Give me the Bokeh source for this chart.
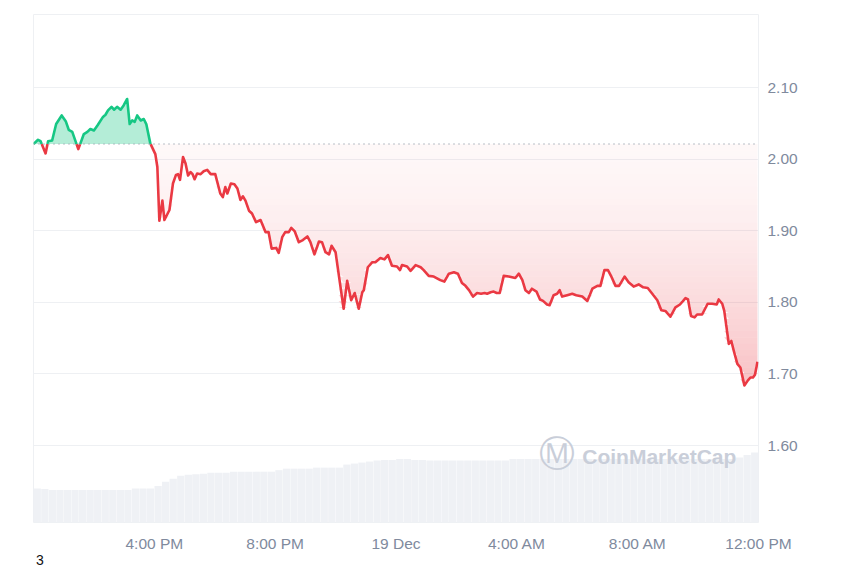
import numpy as np
from bokeh.plotting import figure
from bokeh.layouts import column
from bokeh.models import Range1d, FixedTicker, Span, Label, NumeralTickFormatter, Div
from bokeh.embed import file_html
from bokeh.resources import INLINE

# ---- data (minutes since 12:00 PM, 18 Dec) ----
minutes = [0, 9, 14, 24, 29, 37, 45, 56, 64, 70, 77, 89, 100, 107, 113, 120, 127, 138, 143, 148,
           155, 160, 166, 173, 179, 186, 191, 196, 201, 206, 213, 219, 224, 232, 242, 246, 250, 256, 260, 270,
           277, 283, 287, 291, 297, 302, 307, 312, 316, 320, 325, 332, 338, 345, 352, 361, 371, 376, 381, 385,
           392, 399, 405, 411, 416, 421, 428, 434, 442, 451, 461, 467, 473, 482, 487, 494, 500, 507, 512, 519,
           527, 535, 544, 550, 558, 567, 573, 580, 587, 592, 600, 606, 616, 623, 631, 638, 646, 653, 656, 664,
           673, 679, 689, 697, 704, 712, 722, 728, 732, 742, 749, 759, 769, 775, 785, 795, 808, 816, 825, 835,
           843, 851, 858, 865, 873, 881, 889, 896, 901, 908, 914, 920, 926, 934, 944, 957, 964, 971, 977, 984,
           990, 999, 1006, 1012, 1020, 1025, 1033, 1040, 1045, 1050, 1060, 1070, 1078, 1090, 1100, 1110, 1120, 1126, 1134, 1141,
           1147, 1156, 1163, 1174, 1182, 1192, 1202, 1211, 1220, 1229, 1239, 1247, 1255, 1265, 1275, 1284, 1295, 1300, 1306, 1313,
           1318, 1328, 1339, 1348, 1357, 1361, 1368, 1372, 1381, 1386, 1391, 1398, 1404, 1412, 1419, 1424, 1429, 1433, 1438]
prices = [2.021, 2.027, 2.025, 2.008, 2.025, 2.026, 2.049, 2.061, 2.053, 2.041, 2.038, 2.014, 2.035, 2.038, 2.042, 2.040, 2.047, 2.059, 2.062, 2.068,
          2.073, 2.069, 2.073, 2.069, 2.075, 2.084, 2.049, 2.054, 2.052, 2.061, 2.054, 2.056, 2.049, 2.022, 2.007, 1.989, 1.914, 1.942, 1.915, 1.929,
          1.966, 1.978, 1.979, 1.971, 2.003, 1.994, 1.977, 1.982, 1.979, 1.972, 1.980, 1.979, 1.983, 1.985, 1.979, 1.979, 1.952, 1.947, 1.961, 1.952,
          1.966, 1.965, 1.959, 1.943, 1.948, 1.942, 1.928, 1.924, 1.912, 1.915, 1.898, 1.898, 1.875, 1.876, 1.869, 1.891, 1.898, 1.898, 1.904, 1.899,
          1.884, 1.887, 1.892, 1.884, 1.867, 1.885, 1.884, 1.870, 1.867, 1.879, 1.870, 1.840, 1.791, 1.830, 1.803, 1.813, 1.791, 1.814, 1.817, 1.849,
          1.856, 1.856, 1.862, 1.860, 1.866, 1.851, 1.850, 1.845, 1.852, 1.850, 1.844, 1.852, 1.849, 1.845, 1.837, 1.836, 1.831, 1.829, 1.840, 1.842,
          1.840, 1.827, 1.823, 1.817, 1.808, 1.813, 1.812, 1.813, 1.812, 1.814, 1.815, 1.813, 1.813, 1.837, 1.836, 1.834, 1.840, 1.831, 1.817, 1.813,
          1.819, 1.815, 1.804, 1.802, 1.797, 1.796, 1.810, 1.812, 1.817, 1.808, 1.810, 1.812, 1.810, 1.808, 1.802, 1.819, 1.823, 1.823, 1.845, 1.845,
          1.837, 1.823, 1.823, 1.836, 1.828, 1.822, 1.825, 1.821, 1.820, 1.812, 1.803, 1.789, 1.788, 1.780, 1.793, 1.797, 1.806, 1.804, 1.781, 1.779,
          1.783, 1.783, 1.798, 1.798, 1.797, 1.804, 1.798, 1.788, 1.742, 1.746, 1.732, 1.714, 1.709, 1.684, 1.691, 1.695, 1.695, 1.699, 1.717]
ref_price = 2.021

# 24h volume, 15-minute bars (arbitrary units, millions)
volume = [67, 66, 64, 64, 64, 64, 64, 64, 64, 64, 64, 64, 64, 67, 67, 67,
          72, 80, 86, 92, 94, 95, 96, 98, 98, 98, 100, 100, 100, 100, 100, 100,
          103, 106, 106, 106, 106, 108, 108, 108, 108, 114, 116, 118, 120, 122, 123, 123,
          125, 125, 123, 123, 122, 122, 122, 122, 122, 122, 122, 122, 122, 122, 122, 125,
          125, 125, 125, 125, 125, 125, 125, 125, 125, 125, 125, 125, 125, 125, 125, 125,
          125, 125, 125, 125, 125, 125, 125, 125, 125, 125, 125, 125, 125, 128, 133, 138]
bar_minutes = 15

tick_minutes = [240, 480, 720, 960, 1200, 1440]
tick_labels = ["4:00 PM", "8:00 PM", "19 Dec", "4:00 AM", "8:00 AM", "12:00 PM"]
price_ticks = [1.6, 1.7, 1.8, 1.9, 2.0, 2.1]
corner_text = "3"

GREEN = "#16c784"
RED = "#ea3943"
GRAY_TXT = "#808a9d"
FONT = "Liberation Sans"

# ---- derived arrays: insert baseline crossings ----
t = np.array(minutes, dtype=float)
y = np.array(prices, dtype=float)
xd, yd = [t[0]], [y[0]]
for i in range(1, len(t)):
    a = y[i - 1] - ref_price
    b = y[i] - ref_price
    if a * b < 0:
        f = a / (a - b)
        xd.append(t[i - 1] + f * (t[i] - t[i - 1]))
        yd.append(ref_price)
    xd.append(t[i])
    yd.append(y[i])
xd = np.array(xd)
yd = np.array(yd)
eps = 1e-9
green_y = np.where(yd >= ref_price - eps, yd, np.nan)
red_y = np.where(yd <= ref_price + eps, yd, np.nan)

p = figure(width=850, height=554, output_backend="svg", toolbar_location=None,
           x_range=Range1d(0, 1440), y_range=Range1d(1.4925, 2.202),
           y_axis_location="right",
           min_border_left=33, min_border_right=92, min_border_top=14, min_border_bottom=32)
p.extra_y_ranges = {"vol": Range1d(0, 1000)}
p.outline_line_color = "#eef0f3"
p.background_fill_color = "white"
p.border_fill_color = "white"

# volume bars
centers = [bar_minutes * (i + 0.5) for i in range(len(volume))]
p.vbar(x=centers, width=bar_minutes * 0.96, top=volume, bottom=0, y_range_name="vol",
       fill_color="#eff1f5", line_color=None)

# red gradient fill (stacked bands)
depth = ref_price - yd.min()
nb = 40
d = depth / nb
for k in range(nb):
    hi = ref_price - k * d
    lo = hi - d
    y1 = np.clip(yd, lo, hi)
    tk = (k + 0.5) / nb
    alpha = 0.035 + 0.28 * tk ** 1.5
    p.varea(x=xd, y1=y1, y2=np.full_like(yd, hi), fill_color=RED, fill_alpha=alpha)

# green fill
p.varea(x=xd, y1=np.full_like(yd, ref_price), y2=np.maximum(yd, ref_price),
        fill_color=GREEN, fill_alpha=0.32)

p.add_layout(Span(location=ref_price, dimension="width", line_color="#a3a9b5",
                  line_width=1.5, line_dash="1 4"))

p.line(xd, red_y, line_color=RED, line_width=2.6, line_join="round")
p.line(xd, green_y, line_color=GREEN, line_width=2.6, line_join="round")

# watermark
p.add_layout(Label(x=1039, y=1.589, text="\u24c2", text_font=FONT, text_font_size="36px",
                   text_color="#c9ced9", text_align="center", text_baseline="middle"))
p.add_layout(Label(x=1090, y=1.585, text="CoinMarketCap", text_font=FONT, text_font_size="21px",
                   text_font_style="bold", text_color="#c9ced9", text_align="left", text_baseline="middle"))

# axes
p.xaxis.ticker = FixedTicker(ticks=tick_minutes)
p.xaxis.major_label_overrides = {m: lab for m, lab in zip(tick_minutes, tick_labels)}
p.yaxis.ticker = FixedTicker(ticks=price_ticks)
p.yaxis.formatter = NumeralTickFormatter(format="0.00")
for ax in (p.xaxis, p.yaxis):
    ax.axis_line_color = None
    ax.major_tick_line_color = None
    ax.minor_tick_line_color = None
    ax.major_tick_out = 0
    ax.major_tick_in = 0
    ax.major_label_text_color = GRAY_TXT
    ax.major_label_text_font = FONT
    ax.major_label_text_font_size = "15.5px"
p.xaxis.major_label_standoff = 12
p.yaxis.major_label_standoff = 9

p.xgrid.grid_line_color = None
p.ygrid.ticker = FixedTicker(ticks=price_ticks)
p.ygrid.grid_line_color = "#eef0f3"
p.ygrid.grid_line_width = 1

# "3" in bottom-left corner, below the chart
note = Div(text=corner_text, width=850, height=13, margin=(0, 0, 0, 0),
           styles={"font-family": FONT, "font-size": "14px", "line-height": "13px",
                   "color": "#111111", "padding-left": "36px", "overflow": "visible"})

layout = column(p, note, spacing=0)
open("out.html", "w").write(file_html(layout, INLINE))
